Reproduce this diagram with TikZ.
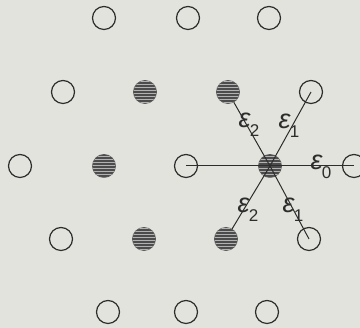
\documentclass[tikz,border=0pt]{standalone}
\usepackage{fontspec}
\newfontfamily\gkfont{Liberation Sans}
\usetikzlibrary{patterns}
\definecolor{bg}{RGB}{226,227,221}
\definecolor{ink}{RGB}{45,45,45}
\newcommand{\epsl}[1]{{\itshape ε}\kern-0.5pt\raisebox{-0.32em}{\fontsize{17}{17}\selectfont #1}}
\begin{document}
\begin{tikzpicture}[x=1pt,y=1pt,
  open/.style={circle,draw=ink,line width=1.2pt,minimum size=23pt,inner sep=0pt},
  hatch/.style={circle,draw=ink!80,line width=0.8pt,minimum size=23pt,inner sep=0pt,fill=ink!85,
     postaction={pattern=horizontal lines,pattern color=gray!60}},
  bond/.style={draw=ink,line width=1pt},
  lab/.style={inner sep=0pt,text=ink,font=\gkfont\fontsize{27}{27}\selectfont}]
\useasboundingbox (0,0) rectangle (360,328);
\clip (0,0) rectangle (360,328);
\fill[bg] (0,0) rectangle (360,328);
% row 1
\node[open] (a1) at (104,310) {};
\node[open] (a2) at (188,310) {};
\node[open] (a3) at (269,310) {};
% row 2
\node[open] (b1) at (63,236) {};
\node[hatch] (b2) at (145,236) {};
\node[hatch] (b3) at (228,236) {};
\node[open] (b4) at (311,236) {};
% row 3
\node[open] (c1) at (20,162) {};
\node[hatch] (c2) at (104,162) {};
\node[open] (c3) at (186,162) {};
\node[hatch] (c) at (270,162) {};
\node[open] (c5) at (354,162) {};
% row 4
\node[open] (d1) at (61,89) {};
\node[hatch] (d2) at (144,89) {};
\node[hatch] (d3) at (226,89) {};
\node[open] (d4) at (309,89) {};
% row 5
\node[open] (e1) at (108,16) {};
\node[open] (e2) at (186,16) {};
\node[open] (e3) at (267,16) {};
% bonds
\draw[bond] (c3.center) -- (c5.center);
\draw[bond] (c.center) -- (b3);
\draw[bond] (c.center) -- (b4.center);
\draw[bond] (c.center) -- (d3);
\draw[bond] (c.center) -- (d4.center);
% labels
\node[lab] (l1) at (249,203) {\epsl{2}};
\node[lab] (l2) at (289,202) {\epsl{1}};
\node[lab] (l3) at (321,161) {\epsl{0}};
\node[lab] (l4) at (248,118) {\epsl{2}};
\node[lab] (l5) at (293,118) {\epsl{1}};
\end{tikzpicture}
\end{document}
